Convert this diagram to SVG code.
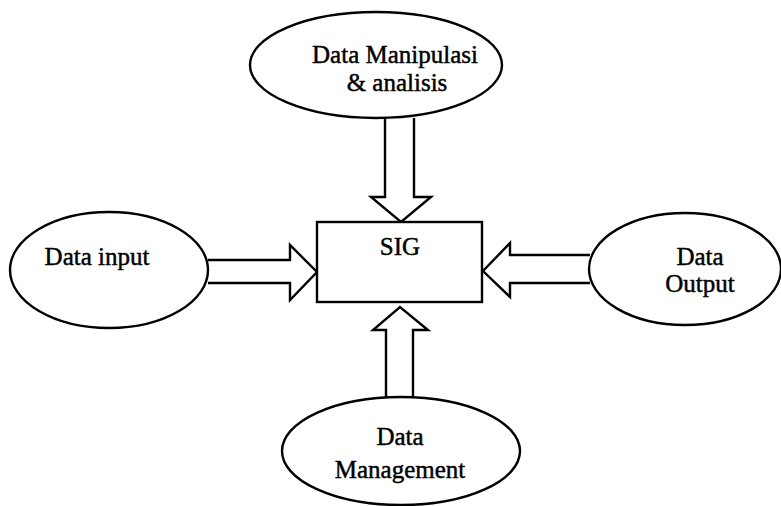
<svg xmlns="http://www.w3.org/2000/svg" width="781" height="506" viewBox="0 0 781 506">
  <style>
    .shape { fill: #ffffff; stroke: #000000; stroke-width: 2.4; }
    .label { font-family: "Liberation Serif", "Times New Roman", serif; font-size: 25px; fill: #000000; stroke: #000000; stroke-width: 0.45; text-anchor: middle; }
  </style>
  <rect x="0" y="0" width="781" height="506" fill="#ffffff"/>

  <!-- block arrows pointing into the central box -->
  <g id="connectors">
    <path class="shape" d="M385,118 L385,197 L371,197 L401,222 L431,197 L414,197 L414,118"/>
    <path class="shape" d="M208,260 L290,260 L290,245 L317,272 L290,300 L290,283 L208,283"/>
    <path class="shape" d="M590,255 L510,255 L510,243 L483,271 L510,297 L510,283 L590,283"/>
    <path class="shape" d="M386,398 L386,330 L373,330 L400,307 L428,330 L413,330 L413,398"/>
  </g>

  <g id="sig">
    <rect class="shape" x="317" y="222" width="165" height="80"/>
    <text class="label" x="400" y="255">SIG</text>
  </g>

  <g id="manipulasi">
    <ellipse class="shape" cx="376" cy="65" rx="126" ry="53"/>
    <text class="label" x="395" y="63">Data Manipulasi</text>
    <text class="label" x="397" y="91">&amp; analisis</text>
  </g>

  <g id="input">
    <ellipse class="shape" cx="109" cy="270" rx="99" ry="58"/>
    <text class="label" x="97" y="265">Data input</text>
  </g>

  <g id="output">
    <ellipse class="shape" cx="685" cy="269" rx="96" ry="56"/>
    <text class="label" x="700" y="265">Data</text>
    <text class="label" x="700" y="292">Output</text>
  </g>

  <g id="management">
    <ellipse class="shape" cx="401" cy="451" rx="119" ry="54"/>
    <text class="label" x="400" y="445">Data</text>
    <text class="label" x="400" y="478">Management</text>
  </g>
</svg>
